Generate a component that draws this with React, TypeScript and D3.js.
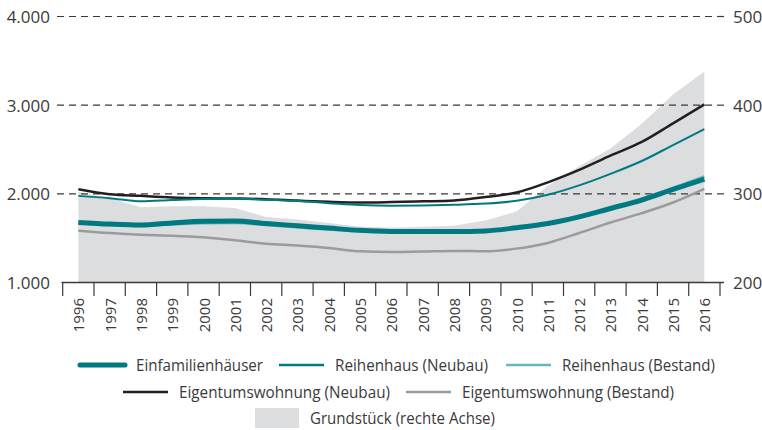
import React from 'react'
import { scaleBand, scaleLinear, line, area, curveMonotoneX, curveLinear } from 'd3'

// values
const years = [
  '1996', '1997', '1998', '1999', '2000', '2001', '2002', '2003', '2004', '2005', '2006',
  '2007', '2008', '2009', '2010', '2011', '2012', '2013', '2014', '2015', '2016',
]
const einfamilienhaeuser = [1678, 1659, 1648, 1672, 1690, 1693, 1665, 1640, 1614, 1588, 1576, 1576, 1576, 1582, 1618, 1665, 1740, 1835, 1930, 2050, 2165]
const reihenhausBestand = [1668, 1650, 1640, 1660, 1672, 1675, 1650, 1625, 1600, 1578, 1570, 1572, 1574, 1580, 1612, 1660, 1740, 1840, 1945, 2065, 2195]
const reihenhausNeubau = [1977, 1951, 1915, 1930, 1942, 1944, 1933, 1918, 1895, 1873, 1865, 1868, 1876, 1890, 1921, 1989, 2095, 2225, 2370, 2550, 2730]
const wohnungNeubau = [2052, 1996, 1977, 1960, 1951, 1947, 1940, 1924, 1910, 1902, 1907, 1915, 1925, 1963, 2015, 2130, 2270, 2430, 2585, 2795, 3008]
const wohnungBestand = [1584, 1558, 1539, 1528, 1509, 1476, 1438, 1416, 1389, 1352, 1345, 1350, 1356, 1352, 1382, 1446, 1558, 1677, 1782, 1902, 2056]
const grundstueck = [302, 295, 285, 286, 286, 284, 274, 271, 267, 263, 262, 263, 264, 270, 280, 309, 331, 351, 379, 412, 438]

const leftTicks = [1000, 2000, 3000, 4000]
const rightTicks = [200, 300, 400, 500]

const TEAL = '#007a80'
const LIGHT_TEAL = '#6cb6ba'
const BLACK = '#231f20'
const GREY = '#9b9b9b'
const AREA = '#dcdddf'
const AXIS = '#3a3a3a'
const FONT = '"Open Sans", sans-serif'

const W = 762
const H = 430
const X0 = 62.7
const X1 = 720
const Y_TOP = 16.5
const Y_BOTTOM = 282.5

function fmt(v) {
  return v >= 1000 ? `${Math.floor(v / 1000)}.${String(v % 1000).padStart(3, '0')}` : String(v)
}

export default function App() {
  const x = scaleBand().domain(years).range([X0, X1])
  const cx = (i) => x(years[i]) + x.bandwidth() / 2
  const yL = scaleLinear().domain([1000, 4000]).range([Y_BOTTOM, Y_TOP])
  const yR = scaleLinear().domain([200, 500]).range([Y_BOTTOM, Y_TOP])

  const mkLine = line().x((d, i) => cx(i)).y(d => yL(d)).curve(curveMonotoneX)
  const mkArea = area()
    .x((d, i) => cx(i))
    .y0(Y_BOTTOM)
    .y1(d => yR(d))
    .curve(curveLinear)

  const boundaries = years.map(y => x(y)).concat([X1])

  const legendRows = [
    {
      y: 365,
      items: [
        { label: 'Einfamilienhäuser', color: TEAL, width: 5, x: 80, len: 127 },
        { label: 'Reihenhaus (Neubau)', color: TEAL, width: 2.5, x: 279, len: 153 },
        { label: 'Reihenhaus (Bestand)', color: LIGHT_TEAL, width: 2.5, x: 506, len: 153 },
      ],
    },
    {
      y: 392,
      items: [
        { label: 'Eigentumswohnung (Neubau)', color: BLACK, width: 2.5, x: 123, len: 211 },
        { label: 'Eigentumswohnung (Bestand)', color: GREY, width: 2.5, x: 406, len: 212 },
      ],
    },
  ]

  return (
    <svg width={W} height={H} style={{ position: 'absolute', left: 0, top: 0 }} fontFamily={FONT}>
      <rect width={W} height={H} fill="#fff" />
      <path d={mkArea(grundstueck)} fill={AREA} />

      {/* dashed grid */}
      {leftTicks.slice(1).map(t => (
        <line key={t} x1={57} x2={717} y1={yL(t)} y2={yL(t)} stroke={AXIS} strokeWidth={1.2} strokeDasharray="7 5" />
      ))}
      {rightTicks.slice(1).map(t => (
        <line key={'r' + t} x1={717} x2={724} y1={yR(t)} y2={yR(t)} stroke={AXIS} strokeWidth={1.2} />
      ))}

      {/* series */}
      <path d={mkLine(wohnungBestand)} fill="none" stroke={GREY} strokeWidth={2.5} />
      <path d={mkLine(wohnungNeubau)} fill="none" stroke={BLACK} strokeWidth={2.5} />
      <path d={mkLine(reihenhausNeubau)} fill="none" stroke={TEAL} strokeWidth={2} />
      <path d={mkLine(reihenhausBestand)} fill="none" stroke={LIGHT_TEAL} strokeWidth={3} />
      <path d={mkLine(einfamilienhaeuser)} fill="none" stroke={TEAL} strokeWidth={5} />

      {/* bottom axis */}
      <line x1={61.5} x2={724} y1={Y_BOTTOM} y2={Y_BOTTOM} stroke={AXIS} strokeWidth={1.3} />
      {boundaries.map((b, i) => (
        <line key={'t' + i} x1={b} x2={b} y1={Y_BOTTOM} y2={296} stroke={AXIS} strokeWidth={1.2} />
      ))}
      {years.map((yr, i) => (
        <text
          key={yr}
          transform={`translate(${cx(i)},298) rotate(-90)`}
          textAnchor="end"
          dominantBaseline="central"
          fontSize={15}
          fill={AXIS}
        >
          {yr}
        </text>
      ))}

      {/* left / right tick labels */}
      {leftTicks.map(t => (
        <text key={'l' + t} x={50} y={yL(t)} textAnchor="end" dominantBaseline="central" fontSize={17} fill={AXIS}>
          {fmt(t)}
        </text>
      ))}
      {rightTicks.map(t => (
        <text key={'rl' + t} x={733} y={yR(t)} textAnchor="start" dominantBaseline="central" fontSize={17} fill={AXIS}>
          {fmt(t)}
        </text>
      ))}

      {/* legend */}
      {legendRows.map(row =>
        row.items.map(it => (
          <g key={it.label}>
            <line x1={it.x} x2={it.x + 45} y1={row.y} y2={row.y} stroke={it.color} strokeWidth={it.width} strokeLinecap={it.width > 3 ? 'round' : 'butt'} />
            <text
              x={it.x + 56}
              y={row.y}
              dominantBaseline="central"
              fontSize={16}
              fill={AXIS}
              textLength={it.len}
              lengthAdjust="spacingAndGlyphs"
            >
              {it.label}
            </text>
          </g>
        ))
      )}
      <rect x={255} y={408} width={44} height={20} fill={AREA} />
      <text x={310} y={418} dominantBaseline="central" fontSize={16} fill={AXIS} textLength={185} lengthAdjust="spacingAndGlyphs">
        Grundstück (rechte Achse)
      </text>
    </svg>
  )
}
